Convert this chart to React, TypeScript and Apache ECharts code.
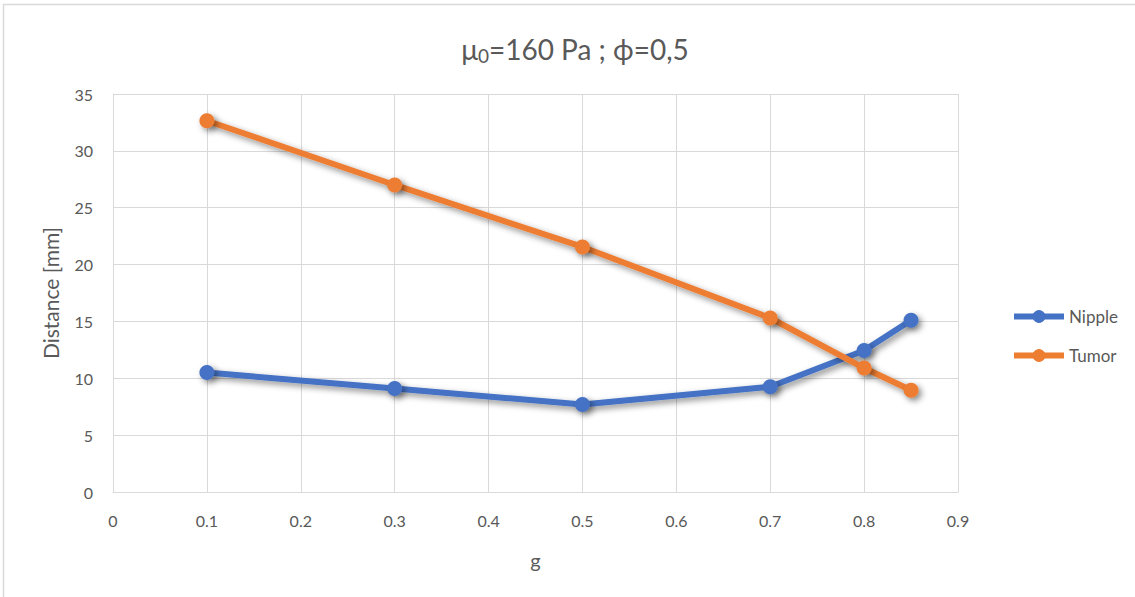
import React, { useEffect, useRef } from "react";
import * as echarts from "echarts";

const gValues = [0.1, 0.3, 0.5, 0.7, 0.8, 0.85];
const nippleValues = [10.5, 9.1, 7.7, 9.25, 12.45, 15.1];
const tumorValues = [32.65, 27.0, 21.55, 15.3, 10.9, 8.95];
const seriesNames = ["Nipple", "Tumor"];
const colors = ["#4472C4", "#ED7D31"];

const FONT = "Lato, 'Open Sans', sans-serif";

export default function App() {
  const ref = useRef<HTMLDivElement>(null);
  useEffect(() => {
    if (!ref.current) return;
    const chart = echarts.init(ref.current, null, { renderer: "svg" });
    const shadow = {
      shadowColor: "rgba(0,0,0,0.45)",
      shadowBlur: 6,
      shadowOffsetX: 3,
      shadowOffsetY: 3,
    };
    const mk = (name: string, vals: number[], color: string) => ({
      name,
      type: "line",
      data: gValues.map((g, i) => [g, vals[i]]),
      symbol: "circle",
      symbolSize: 15,
      showSymbol: true,
      lineStyle: { width: 6, color, ...shadow },
      itemStyle: { color, ...shadow },
      emphasis: { disabled: true },
    });
    chart.setOption({
      animation: false,
      backgroundColor: "#ffffff",
      textStyle: { fontFamily: FONT },
      graphic: [
        {
          type: "rect",
          shape: { x: 3.5, y: 4.5, width: 1200, height: 700 },
          style: { fill: "none", stroke: "#d9d9d9", lineWidth: 1.5 },
          silent: true,
        },
      ],
      title: {
        text: "{a|μ}{s|0}{a|=160 Pa ; ϕ=0,5}",
        left: 570,
        top: 27,
        textAlign: "center",
        textStyle: {
          fontWeight: "normal",
          rich: {
            a: { fontSize: 28, color: "#595959", fontFamily: FONT, fontWeight: "normal" },
            s: { fontSize: 19, color: "#595959", fontFamily: FONT, fontWeight: "normal", padding: [14, 0, 0, 0] },
          },
        },
      },
      legend: {
        orient: "vertical",
        left: 1006,
        top: 303,
        itemWidth: 50,
        itemHeight: 16,
        itemGap: 22,
        data: seriesNames.map((n, i) => ({
          name: n,
          itemStyle: { color: colors[i] },
          lineStyle: { color: colors[i], width: 6 },
        })),
        textStyle: { fontSize: 17, color: "#595959", fontFamily: FONT, padding: [0, 0, 0, 0] },
      },
      grid: { left: 113, right: 177, top: 94, bottom: 105, containLabel: false },
      xAxis: {
        type: "value",
        min: 0,
        max: 0.9,
        interval: 0.1,
        name: "g",
        nameLocation: "middle",
        nameGap: 58,
        nameTextStyle: { fontSize: 20, color: "#595959", fontFamily: FONT },
        axisLine: { show: true, lineStyle: { color: "#d9d9d9", width: 1 } },
        axisTick: { show: false },
        splitLine: { show: true, lineStyle: { color: "#d9d9d9", width: 1 } },
        axisLabel: {
          fontSize: 16,
          color: "#595959",
          margin: 20,
          formatter: (v: number) => String(Math.round(v * 10) / 10),
        },
      },
      yAxis: {
        type: "value",
        min: 0,
        max: 35,
        interval: 5,
        name: "Distance [mm]",
        nameLocation: "middle",
        nameGap: 52,
        nameTextStyle: { fontSize: 21, color: "#595959", fontFamily: FONT },
        axisLine: { show: true, lineStyle: { color: "#d9d9d9", width: 1 } },
        axisTick: { show: false },
        splitLine: { show: true, lineStyle: { color: "#d9d9d9", width: 1 } },
        axisLabel: { fontSize: 16, color: "#595959", margin: 20 },
      },
      series: [
        mk(seriesNames[0], nippleValues, colors[0]),
        mk(seriesNames[1], tumorValues, colors[1]),
      ],
    });
    return () => chart.dispose();
  }, []);
  return (
    <div
      ref={ref}
      style={{ position: "fixed", left: 0, top: 0, width: 1135, height: 597 }}
    />
  );
}
